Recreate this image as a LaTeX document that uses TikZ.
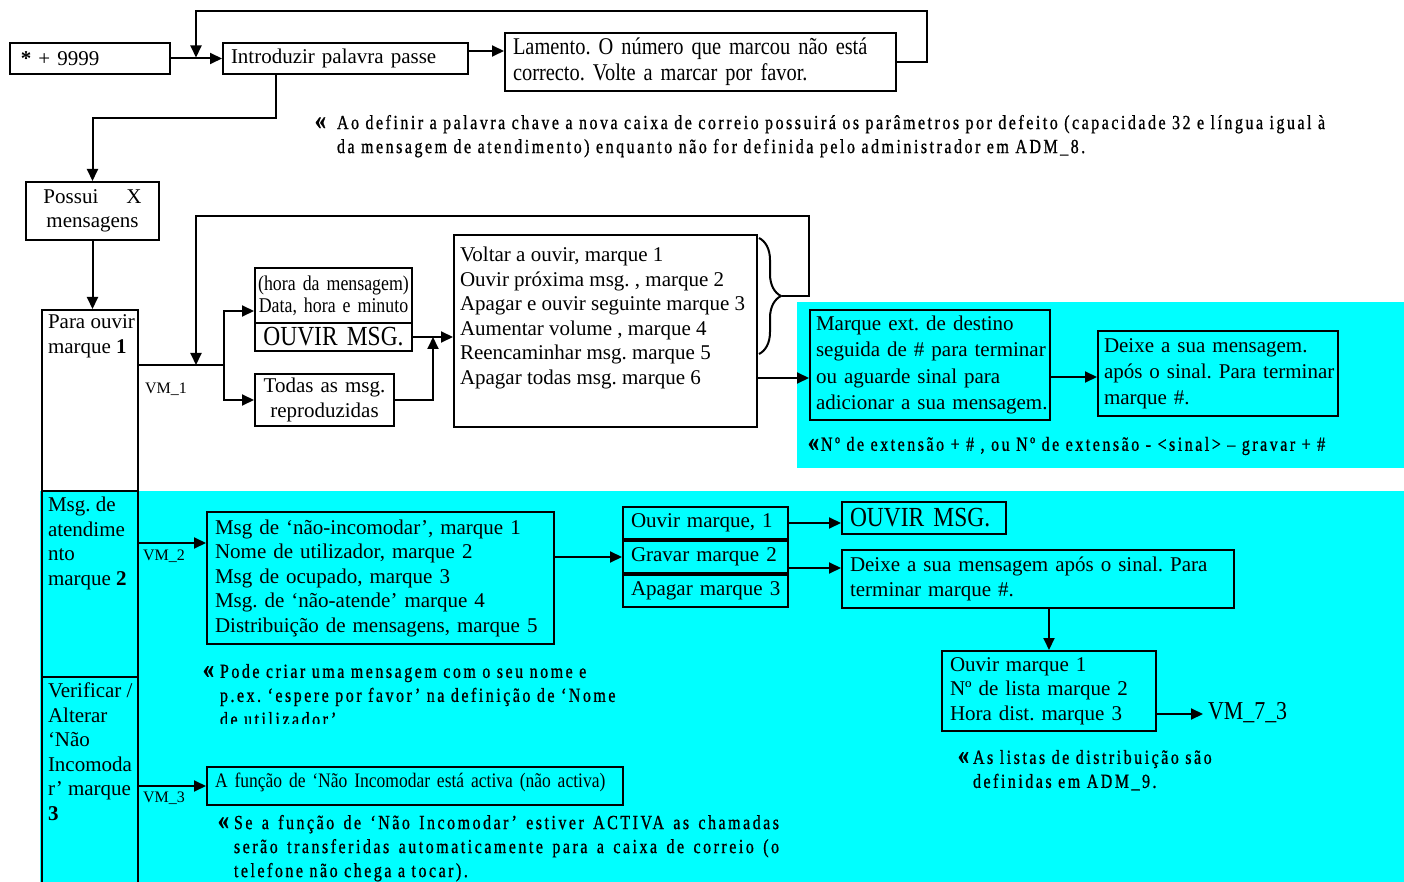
\documentclass[tikz,border=0pt]{standalone}
\usepackage{fontspec}
\setmainfont{Liberation Serif}
\newfontfamily\condfont{Liberation Serif}[FakeStretch=0.85,WordSpace=0.85]
\newfontfamily\notefont{Liberation Serif}[FakeStretch=0.8,LetterSpace=12.5,FakeBold=0.9]
\usetikzlibrary{arrows.meta,calc,decorations.pathreplacing}
\definecolor{aqua}{RGB}{0,255,255}
\newcommand{\marca}{{\bfseries\fontsize{14}{12}\selectfont«}}

\begin{document}
\frenchspacing
\begin{tikzpicture}[x=0.5pt,y=-0.5pt,line width=1pt,
  box/.style={draw,anchor=north west,inner xsep=4pt,inner ysep=0pt,align=left,
    font=\fontsize{10.5}{12.25}\selectfont},
  lbox/.style={draw,anchor=north west,inner xsep=4pt,inner ysep=0pt,
    font=\fontsize{10.5}{12.25}\selectfont,
    execute at begin node={\raggedright\rightskip=-6pt plus 1fil\hyphenpenalty=10000\relax}},
  arr/.style={-{Triangle[length=6pt,width=5.5pt]}},
  note/.style={anchor=north west,inner sep=0pt,align=left,
    font=\notefont\fontsize{10}{12}\selectfont},
  lbl/.style={anchor=west,inner sep=0pt,font=\fontsize{8}{9}\selectfont}]

  \useasboundingbox (0,0) rectangle (1404,882);
  \fill[aqua] (797,302) rectangle (1404,468);
  \fill[aqua] (40,491) rectangle (1404,882);

  \node[lbox,text width=72pt,minimum height=15.5pt] (star) at (9,42) {\hspace*{1.5pt}\textbf{*} + 9999};
  \node[lbox,text width=114.5pt,minimum height=15.5pt] (intro) at (222,42) {Introduzir palavra passe};
  \node[lbox,text width=187.5pt,minimum height=29pt,font=\condfont\fontsize{12}{13}\selectfont] (lamento) at (504,32)
    {Lamento. O número que marcou não está\\correcto. Volte a marcar por favor.};
  \node[box,text width=58.5pt,minimum height=29pt,align=center] (possui) at (25,181) {Possui\hspace{14pt}X\\mensagens};

  \node[box,inner xsep=3pt] (col1) at (41,309)
    {\parbox[c][90.5pt][t]{42pt}{\vspace*{2.5pt}\mbox{Para ouvir}\\marque \textbf{1}}};
  \node[box,inner xsep=3pt] (col2) at (41,490)
    {\parbox[c][93pt][t]{42pt}{\vspace*{3pt}Msg. de\\\mbox{atendime}\\nto\\marque \textbf{2}}};
  \node[box,inner xsep=3pt] (col3) at (41,676)
    {\parbox[c][110pt][t]{42pt}{\vspace*{3pt}\mbox{Verificar /}\\Alterar\\‘Não\\\mbox{Incomoda}\\\mbox{r’ marque}\\\textbf{3}}};

  \node[box,inner xsep=1pt,text width=76.5pt,minimum height=27.5pt,align=center,font=\condfont\fontsize{10.5}{11}\selectfont] (hora) at (254,267)
    {(hora da mensagem)\\Data, hora e minuto};
  \node[box,text width=70.5pt,minimum height=14pt,align=center,font=\condfont\fontsize{13.8}{14}\selectfont] (ouvir1) at (254,322) {OUVIR MSG.};
  \node[box,text width=61.5pt,minimum height=26pt,align=center] (todas) at (254,373) {Todas as msg.\\reproduzidas};
  \node[box,inner xsep=3pt] (menu) at (453,234)
    {\parbox[c][96pt][t]{145.5pt}{\vspace*{6pt}Voltar a ouvir, marque 1\\Ouvir próxima msg. , marque 2\\Apagar e ouvir seguinte marque 3\\Aumentar volume , marque 4\\Reencaminhar msg. marque 5\\Apagar todas msg. marque 6}};
  \node[lbox,inner xsep=3pt,text width=114pt,minimum height=55pt,font=\fontsize{10.5}{13.3}\selectfont] (marque) at (809,309)
    {Marque ext. de destino\\seguida de \# para terminar\\ou aguarde sinal para\\adicionar a sua mensagem.};
  \node[lbox,inner xsep=3pt,text width=114pt,minimum height=42.5pt,font=\fontsize{10.5}{13}\selectfont] (deixe1) at (1097,330)
    {Deixe a sua mensagem.\\após o sinal. Para terminar\\marque \#.};

  \node[lbox,text width=165.5pt,minimum height=66pt] (msg) at (206,511)
    {Msg de ‘não-incomodar’, marque 1\\Nome de utilizador, marque 2\\Msg de ocupado, marque 3\\Msg. de ‘não-atende’ marque 4\\Distribuição de mensagens, marque 5};
  \node[lbox,text width=74.5pt,minimum height=16pt] (ouvirm) at (622,506) {Ouvir marque, 1};
  \node[lbox,text width=74.5pt,minimum height=16pt] (gravar) at (ouvirm.south west) {Gravar marque 2};
  \node[lbox,text width=74.5pt,minimum height=16pt] (apagar) at (gravar.south west) {Apagar marque 3};
  \node[lbox,text width=74pt,minimum height=16pt,font=\condfont\fontsize{13.8}{14}\selectfont] (ouvir2) at (841,501) {OUVIR MSG.};
  \node[lbox,text width=188pt,minimum height=29pt,font=\fontsize{10.5}{12.5}\selectfont] (deixe2) at (841,549)
    {Deixe a sua mensagem após o sinal. Para\\terminar marque \#.};
  \node[lbox,text width=99pt,minimum height=40pt] (lista) at (941,650) {Ouvir marque 1\\Nº de lista marque 2\\Hora dist. marque 3};
  \node[anchor=west,inner xsep=2pt,inner ysep=0pt,font=\condfont\fontsize{12.9}{14}\selectfont] (vm73) at (1203,713) {VM\_7\_3};
  \node[lbox,text width=200pt,minimum height=19pt,font=\condfont\fontsize{10.3}{12}\selectfont] (incom) at (206,766)
    {\raisebox{2pt}[\height][\depth]{A função de ‘Não Incomodar está activa (não activa)}};

  \node[lbl] (vm1) at (144,389) {VM\_1};
  \node[lbl] (vm2) at (142,556) {VM\_2};
  \node[lbl] (vm3) at (142,798) {VM\_3};

  % ligacoes
  \draw[arr] (star) -- (intro);
  \coordinate (j1) at (196,57.5);
  \draw[arr] (lamento.east) -| (927,11) -| (j1);
  \draw[arr] ($(intro.east)+(0,-7.5)$) coordinate (i1) -- (i1 -| lamento.west);
  \draw[arr] ($(intro.south west)+(54,0)$) -- ++(0,43) -| (possui.north);
  \draw[arr] (possui.south) -- (possui.south |- col1.north);

  \coordinate (s1) at (224,365);
  \draw (s1 -| col1.east) -- (s1);
  \draw[arr] (s1) |- ($(hora.south west)+(0,-13)$);
  \draw[arr] (s1) |- (todas.west);
  \draw[arr] (ouvir1.east) -- (ouvir1.east -| menu.west);
  \draw[arr] (todas.east) -| ($(ouvir1.east)!0.5!(ouvir1.east -| menu.west)$);

  \draw[decorate,decoration={brace,amplitude=11pt}] ($(menu.north east)+(1,4)$) -- ($(menu.north east)+(1,120)$);
  \coordinate (bt) at ($(menu.north east)+(24,62)$);
  \coordinate (j2) at (196,365);
  \draw[arr] (bt) -| (809,216) -| (j2);
  \draw[arr] ($(menu.south east)+(0,-50)$) coordinate (m1) -- (m1 -| marque.west);
  \draw[arr] ($(marque.east)+(0,12)$) coordinate (m2) -- (m2 -| deixe1.west);

  \draw[arr] ($(col2.north east)+(0,53)$) coordinate (v2) -- (v2 -| msg.west);
  \draw[arr] (gravar.west -| msg.east) -- (gravar.west);
  \draw[arr] (ouvirm.east) -- (ouvirm.east -| ouvir2.west);
  \draw[arr] ($(gravar.east)+(0,11)$) coordinate (g1) -- (g1 -| deixe2.west);
  \draw[arr] (lista.north |- deixe2.south) -- (lista.north);
  \draw[arr] ($(lista.east)+(0,23)$) coordinate (l1) -- (l1 -| vm73.west);
  \draw[arr] (incom.west -| col3.east) -- (incom.west);

  % notas
  \node[note] (nota1) at (336,114)
    {\llap{\marca\hspace{5.5pt}}\makebox[494pt][s]{Ao definir a palavra chave a nova caixa de correio possuirá os parâmetros por defeito (capacidade 32 e língua igual à}\\da mensagem de atendimento) enquanto não for definida pelo administrador em ADM\_8.};
  \node[note,anchor=west] (nota2) at (820,446)
    {\llap{\marca\hspace{1pt}}Nº de extensão + \# , ou Nº de extensão - <sinal> – gravar + \#};
  \begin{scope}
    \clip (190,650) rectangle (700,723);
    \node[note] (nota3) at (219,663)
      {\llap{\marca\hspace{3pt}}Pode criar uma mensagem com o seu nome e\\p.ex. ‘espere por favor’ na definição de ‘Nome\\de utilizador’};
  \end{scope}
  \node[note] (nota4) at (972,749) {\llap{\marca\hspace{2pt}}As listas de distribuição são\\definidas em ADM\_9.};
  \node[note] (nota5) at (233,814)
    {\llap{\marca\hspace{2.5pt}}\makebox[272.5pt][s]{Se a função de ‘Não Incomodar’ estiver ACTIVA as chamadas}\\\makebox[272.5pt][s]{serão transferidas automaticamente para a caixa de correio (o}\\telefone não chega a tocar).};

\end{tikzpicture}
\end{document}
